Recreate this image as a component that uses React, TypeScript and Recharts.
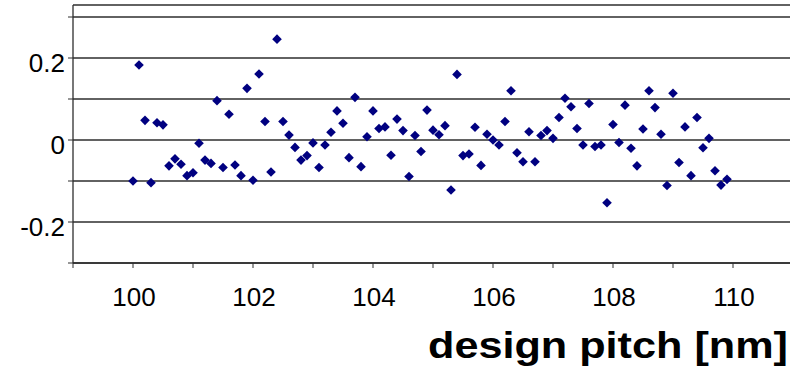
import { ScatterChart, Scatter, XAxis, YAxis, CartesianGrid, Label } from 'recharts';

const pitch = [
  100.0, 100.1, 100.2, 100.3, 100.4, 100.5, 100.6, 100.7, 100.8, 100.9,
  101.0, 101.1, 101.2, 101.3, 101.4, 101.5, 101.6, 101.7, 101.8, 101.9,
  102.0, 102.1, 102.2, 102.3, 102.4, 102.5, 102.6, 102.7, 102.8, 102.9,
  103.0, 103.1, 103.2, 103.3, 103.4, 103.5, 103.6, 103.7, 103.8, 103.9,
  104.0, 104.1, 104.2, 104.3, 104.4, 104.5, 104.6, 104.7, 104.8, 104.9,
  105.0, 105.1, 105.2, 105.3, 105.4, 105.5, 105.6, 105.7, 105.8, 105.9,
  106.0, 106.1, 106.2, 106.3, 106.4, 106.5, 106.6, 106.7, 106.8, 106.9,
  107.0, 107.1, 107.2, 107.3, 107.4, 107.5, 107.6, 107.7, 107.8, 107.9,
  108.0, 108.1, 108.2, 108.3, 108.4, 108.5, 108.6, 108.7, 108.8, 108.9,
  109.0, 109.1, 109.2, 109.3, 109.4, 109.5, 109.6, 109.7, 109.8, 109.9,
];

const deviation = [
  -0.1, 0.183, 0.048, -0.104, 0.042, 0.037, -0.063, -0.046, -0.059, -0.087,
  -0.08, -0.008, -0.049, -0.057, 0.096, -0.067, 0.063, -0.061, -0.087, 0.126,
  -0.098, 0.161, 0.045, -0.078, 0.246, 0.045, 0.012, -0.018, -0.049, -0.038,
  -0.007, -0.067, -0.012, 0.019, 0.071, 0.041, -0.043, 0.104, -0.065, 0.008,
  0.071, 0.028, 0.032, -0.037, 0.051, 0.023, -0.089, 0.011, -0.028, 0.073,
  0.024, 0.013, 0.035, -0.122, 0.16, -0.038, -0.034, 0.031, -0.062, 0.014,
  0.0, -0.012, 0.045, 0.12, -0.031, -0.053, 0.02, -0.053, 0.011, 0.023,
  0.004, 0.055, 0.102, 0.081, 0.028, -0.012, 0.089, -0.016, -0.012, -0.153,
  0.038, -0.006, 0.085, -0.02, -0.063, 0.027, 0.12, 0.079, 0.014, -0.111,
  0.114, -0.055, 0.032, -0.087, 0.055, -0.019, 0.004, -0.075, -0.11, -0.096,
];

const xTicks = [99, 100, 101, 102, 103, 104, 105, 106, 107, 108, 109, 110];
const xLabels = ['100', '102', '104', '106', '108', '110'];
const yTicks = [-0.3, -0.2, -0.1, 0, 0.1, 0.2, 0.3];
const yLabels = ['-0.2', '0', '0.2'];
const xTitle = 'design pitch [nm]';

const data = pitch.map((p, i) => ({ pitch: p, dev: deviation[i] }));

const FONT = '"Liberation Sans", Arial, sans-serif';
const LINE = '#2e2e2e';
const NAVY = '#000080';

const fmtY = (v: number) => {
  const s = Math.abs(v) < 1e-9 ? '0' : v.toFixed(1);
  return yLabels.includes(s) ? s : '';
};

const fmtX = (v: number) => {
  const s = String(v);
  return xLabels.includes(s) ? s : '';
};

const YTick = (props: any) => {
  const { x, y, payload } = props;
  return (
    <text x={x} y={y} dy={14} textAnchor='end' fontSize={26} fontFamily={FONT} fill='#000'>
      {fmtY(payload.value)}
    </text>
  );
};

const XTick = (props: any) => {
  const { x, y, payload } = props;
  return (
    <text x={x + 1} y={y} dy={36} textAnchor='middle' fontSize={26} fontFamily={FONT} fill='#000'>
      {fmtX(payload.value)}
    </text>
  );
};

const Diamond = (props: any) => {
  const { cx, cy } = props;
  const r = 4.8;
  return (
    <polygon
      points={`${cx},${cy - r} ${cx + r},${cy} ${cx},${cy + r} ${cx - r},${cy}`}
      fill={NAVY}
    />
  );
};

const Title = (props: any) => {
  const { viewBox } = props;
  return (
    <text
      x={viewBox.x + viewBox.width - 2}
      y={viewBox.y + 95}
      textAnchor='end'
      fontSize={37}
      fontWeight='bold'
      fontFamily={FONT}
      fill='#000'
      textLength={360}
      lengthAdjust='spacingAndGlyphs'
    >
      {xTitle}
    </text>
  );
};

export default function App() {
  return (
    <div style={{ position: 'absolute', left: 0, top: 0, background: '#fff' }}>
      <ScatterChart width={790} height={374} margin={{ top: 5, right: 0, bottom: 0, left: 0 }}>
        <CartesianGrid horizontal vertical={false} stroke={LINE} strokeWidth={1.3} />
        <XAxis
          type='number'
          dataKey='pitch'
          domain={[99, 110.95]}
          ticks={xTicks}
          allowDataOverflow
          height={111}
          tickSize={5}
          tickLine={{ stroke: LINE }}
          axisLine={{ stroke: LINE, strokeWidth: 1.3 }}
          tick={<XTick />}
          interval={0}
        >
          <Label content={<Title />} />
        </XAxis>
        <YAxis
          type='number'
          dataKey='dev'
          domain={[-0.3, 0.3293]}
          ticks={yTicks}
          allowDataOverflow
          width={73}
          tickSize={5}
          tickMargin={3}
          tickLine={{ stroke: LINE }}
          axisLine={{ stroke: LINE, strokeWidth: 1.3 }}
          tick={<YTick />}
          interval={0}
        />
        <Scatter data={data} fill={NAVY} shape={<Diamond />} isAnimationActive={false} />
      </ScatterChart>
    </div>
  );
}
